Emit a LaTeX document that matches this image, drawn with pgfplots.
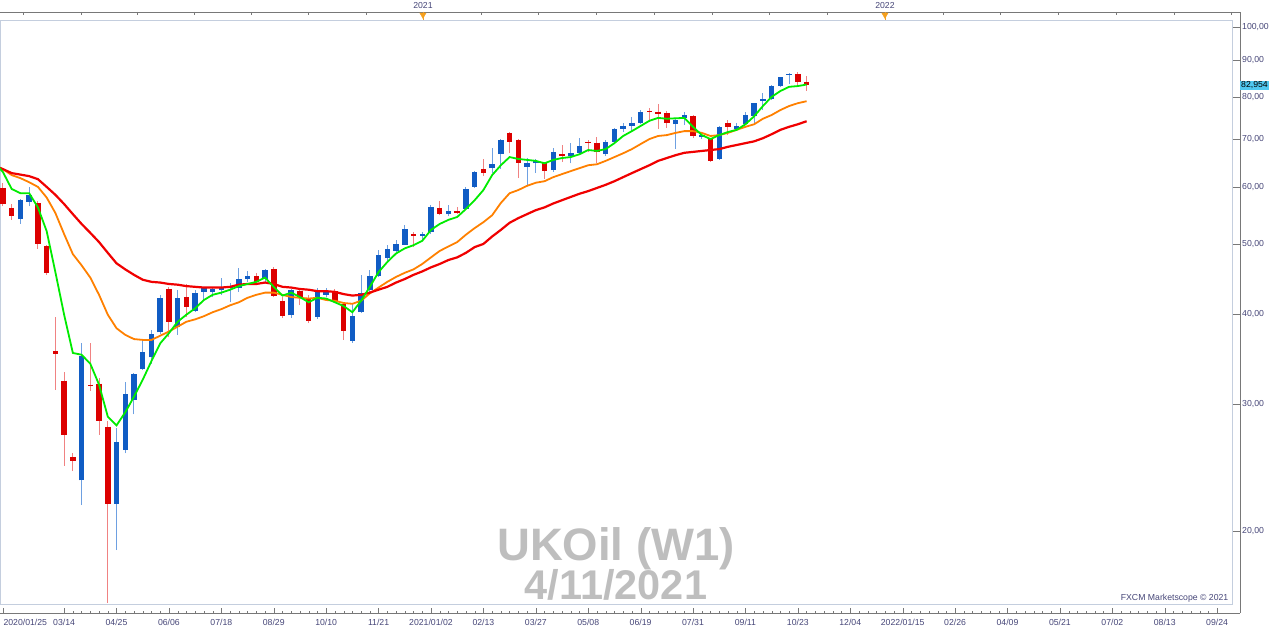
\documentclass[border=0pt]{standalone}
\usepackage{fontspec}
\setmainfont{Liberation Sans}
\usepackage{pgfplots}
\usepackage{pgfplotstable}
\pgfplotsset{compat=1.18}

\definecolor{bullc}{RGB}{16,92,196}
\definecolor{bullw}{RGB}{110,160,225}
\definecolor{bearc}{RGB}{220,0,0}
\definecolor{bearw}{RGB}{240,130,130}
\definecolor{magreen}{RGB}{0,235,0}
\definecolor{maorange}{RGB}{255,128,0}
\definecolor{mared}{RGB}{240,0,0}
\definecolor{framec}{RGB}{196,206,222}
\definecolor{labc}{RGB}{70,70,120}
\definecolor{rulec}{RGB}{120,120,120}
\definecolor{titlec}{RGB}{190,190,190}
\definecolor{pricec}{RGB}{80,200,240}
\definecolor{yearc}{RGB}{245,160,30}

% weekly candles, w = weeks since 2020/01/25
\pgfplotstableread{
w o h l c
0 59.8 60.7 56.4 56.8
1 56.1 56.8 54.0 54.7
2 54.1 57.7 53.3 57.5
3 57.2 60.0 56.4 58.4
4 57.0 57.4 49.2 50.0
5 49.7 49.8 45.3 45.6
6 35.5 39.6 31.4 35.2
7 32.3 33.2 24.6 27.2
8 25.3 25.6 24.2 25.0
9 23.5 36.5 21.7 35.0
10 31.9 36.4 31.3 31.75
11 32.0 32.6 27.2 28.4
12 27.9 28.4 15.9 21.8
13 21.8 27.8 18.8 26.6
14 25.9 32.2 25.6 31.0
15 30.4 33.1 29.0 33.0
16 33.5 36.8 33.4 35.4
17 34.8 38.0 34.1 37.5
18 37.7 42.5 37.5 42.1
19 43.3 43.6 37.1 39.0
20 38.4 43.2 37.4 42.1
21 42.2 44.0 39.6 40.9
22 40.4 43.2 40.2 42.8
23 42.9 43.6 41.8 43.4
24 42.9 43.6 42.2 43.3
25 43.1 44.8 42.5 43.4
26 43.4 44.1 41.5 43.7
27 43.4 46.3 42.9 44.7
28 44.7 45.9 44.3 45.1
29 45.1 45.6 44.0 44.3
30 44.7 46.1 44.3 46.0
31 46.1 46.4 42.2 42.3
32 41.7 42.2 39.5 39.7
33 39.8 43.3 39.5 43.2
34 43.0 43.4 41.1 42.1
35 42.1 42.5 38.8 39.1
36 39.6 43.5 39.4 43.2
37 42.5 43.4 42.2 42.9
38 43.0 43.3 41.4 41.7
39 41.3 41.5 36.8 37.9
40 36.7 41.4 36.5 39.7
41 40.2 45.3 40.1 42.8
42 43.2 46.0 42.9 45.1
43 45.1 49.0 45.0 48.3
44 47.8 49.8 47.0 49.2
45 48.9 50.6 48.7 50.0
46 49.9 53.1 49.8 52.4
47 51.6 51.9 49.5 51.3
48 51.3 51.9 50.7 51.6
49 51.9 56.6 51.6 56.3
50 56.1 57.4 54.8 55.0
51 55.0 56.6 54.6 55.5
52 55.5 56.3 55.0 55.2
53 55.9 60.0 55.7 59.6
54 60.0 63.1 59.8 62.9
55 63.5 65.6 62.1 62.7
56 63.7 67.9 62.7 64.5
57 66.6 69.9 63.5 69.7
58 71.3 71.4 66.8 69.3
59 69.7 69.9 61.7 64.8
60 63.9 65.8 60.4 64.8
61 64.7 65.6 62.7 65.2
62 64.8 65.0 61.5 63.2
63 63.3 67.9 62.9 67.1
64 66.6 68.6 65.0 66.2
65 66.2 69.1 64.7 66.9
66 66.9 70.1 66.4 68.4
67 69.3 69.8 67.1 69.0
68 69.1 70.4 64.7 67.0
69 66.6 69.7 66.2 69.2
70 69.2 72.4 69.0 72.2
71 72.2 73.6 71.5 72.9
72 73.0 75.0 71.6 73.5
73 73.7 76.7 73.4 76.3
74 76.5 77.3 73.9 76.1
75 76.3 78.1 72.3 75.7
76 75.9 76.5 72.5 73.5
77 73.3 74.6 67.7 74.3
78 74.7 76.3 73.1 75.5
79 75.2 75.4 70.1 70.6
80 70.3 71.1 69.9 70.9
81 69.9 70.0 65.0 65.2
82 65.6 72.8 65.4 72.7
83 73.7 74.3 70.8 72.7
84 72.2 73.5 71.9 72.9
85 73.4 76.2 73.1 75.5
86 75.2 78.5 73.5 78.4
87 79.0 80.9 76.7 79.5
88 79.5 83.1 79.2 82.8
89 82.8 85.3 82.6 85.2
90 85.8 86.3 83.4 86.1
91 86.1 86.7 83.1 83.9
92 83.9 85.5 81.6 82.95
}\ohlc

% moving averages (fast green, orange, slow red)
\pgfplotstableread{
w g o r
-1 65.0 64.3 64.2
0 62.9 63.5 63.5
1 59.6 62.3 62.7
2 58.8 61.7 62.4
3 58.8 60.9 62.1
4 56.2 60.0 61.5
5 52.1 58.0 60.0
6 45.7 55.2 58.5
7 39.9 51.6 56.8
8 35.3 48.4 55.0
9 35.1 46.7 53.3
10 34.1 44.9 51.8
11 31.9 42.5 50.3
12 28.8 39.9 48.6
13 28.0 38.2 47.0
14 29.2 37.4 46.1
15 30.7 36.9 45.3
16 32.4 36.8 44.6
17 34.4 36.8 44.3
18 36.4 37.3 44.2
19 37.6 37.8 44.0
20 39.0 38.4 43.9
21 39.9 39.0 43.7
22 40.7 39.3 43.6
23 41.8 39.7 43.5
24 42.5 40.2 43.5
25 42.8 40.6 43.5
26 43.2 41.1 43.6
27 43.7 41.5 43.9
28 44.0 42.1 44.0
29 44.3 42.5 44.0
30 44.9 42.8 44.2
31 43.6 42.8 44.0
32 42.4 42.5 43.6
33 42.8 42.2 43.5
34 42.2 42.1 43.3
35 41.5 42.0 43.2
36 42.1 42.1 43.0
37 42.0 41.8 43.0
38 41.5 41.7 42.9
39 41.0 41.4 42.6
40 40.2 41.3 42.4
41 41.7 41.7 42.5
42 43.6 42.7 42.8
43 45.7 43.5 43.2
44 47.2 44.3 43.6
45 48.5 45.0 44.2
46 49.3 45.6 44.7
47 49.8 46.1 45.3
48 50.5 46.9 45.8
49 52.3 47.9 46.4
50 53.3 48.9 46.9
51 54.0 49.6 47.5
52 54.5 50.3 47.9
53 55.9 51.5 48.6
54 57.5 52.6 49.5
55 59.4 53.6 50.0
56 62.3 54.8 51.2
57 64.3 57.0 52.3
58 66.0 58.8 53.5
59 65.6 59.4 54.3
60 65.4 60.2 55.0
61 65.2 60.8 55.7
62 64.7 61.1 56.2
63 65.4 61.9 56.9
64 65.8 62.5 57.5
65 66.0 63.1 58.1
66 66.6 63.7 58.7
67 67.5 64.3 59.2
68 67.3 64.5 59.8
69 67.7 65.2 60.4
70 69.0 66.0 61.1
71 70.6 66.8 61.9
72 71.7 67.7 62.7
73 72.9 68.8 63.5
74 74.1 69.9 64.3
75 74.8 70.6 65.2
76 74.6 70.8 65.8
77 74.7 71.3 66.4
78 74.8 71.7 66.9
79 72.7 71.7 67.1
80 70.8 71.3 67.3
81 69.9 70.6 67.5
82 70.8 70.8 67.7
83 71.5 71.3 68.2
84 72.0 72.0 68.6
85 73.3 72.7 69.0
86 75.2 73.3 69.4
87 77.7 74.6 70.1
88 80.0 75.5 71.0
89 81.5 76.7 72.0
90 82.6 77.7 72.7
91 82.8 78.4 73.3
92 83.2 78.9 74.0
}\mas

\pgfplotsset{
  bull wick/.style={forget plot, draw=bullw, line width=1pt},
  bear wick/.style={forget plot, draw=bearw, line width=1pt},
  bull body/.style={forget plot, draw=bullc, line width=5.5pt, line cap=butt},
  bear body/.style={forget plot, draw=bearc, line width=5.5pt, line cap=butt},
}
\tikzset{small text/.style={font=\fontsize{8.7}{10}\selectfont, text=labc}}

\begin{document}
\begin{tikzpicture}
\useasboundingbox (0pt,-28pt) rectangle (1280pt,604pt);

% main price panel
\begin{axis}[at={(0pt,0pt)}, anchor=south west, scale only axis,
  width=1232pt, height=584pt,
  xmin=-0.34, xmax=140.7, ymode=log, ymin=15.83, ymax=102.26,
  axis line style={framec}, ticks=none, clip=true]
\pgfplotsforeachungrouped \i in {0,...,92}{%
  \pgfplotstablegetelem{\i}{w}\of\ohlc \let\candW\pgfplotsretval
  \pgfplotstablegetelem{\i}{o}\of\ohlc \let\candO\pgfplotsretval
  \pgfplotstablegetelem{\i}{h}\of\ohlc \let\candH\pgfplotsretval
  \pgfplotstablegetelem{\i}{l}\of\ohlc \let\candL\pgfplotsretval
  \pgfplotstablegetelem{\i}{c}\of\ohlc \let\candC\pgfplotsretval
  \pgfmathparse{\candC>\candO}%
  \ifdim\pgfmathresult pt>0.5pt \def\candK{bull}\else\def\candK{bear}\fi
  \edef\candPlot{%
    \noexpand\addplot[\candK\space wick] coordinates {(\candW,\candL) (\candW,\candH)};
    \noexpand\addplot[\candK\space body] coordinates {(\candW,\candO) (\candW,\candC)};}%
  \candPlot
}
\addplot[maorange, line width=1.8pt] table[x=w, y=o] {\mas};
\addplot[mared, line width=2.2pt] table[x=w, y=r] {\mas};
\addplot[magreen, line width=1.8pt] table[x=w, y=g] {\mas};
\node[font=\fontsize{45.5}{48}\selectfont\bfseries, text=titlec] at (rel axis cs:0.5,0.094) {UKOil (W1)};
\node[font=\fontsize{41.5}{44}\selectfont\bfseries, text=titlec] at (rel axis cs:0.5,0.033) {4/11/2021};
\node[small text, anchor=south east, inner sep=1pt] at (rel axis cs:0.998,0.0) {FXCM Marketscope © 2021};
\end{axis}

% right price ruler
\begin{axis}[at={(0pt,0pt)}, anchor=south west, scale only axis,
  width=1240pt, height=584pt,
  xmin=0, xmax=1, ymode=log, ymin=15.83, ymax=102.26,
  axis x line=none, axis y line*=right,
  axis line style={rulec, shorten <=-9pt, shorten >=-8pt},
  ytick={20,30,40,50,60,70,80,90,100},
  yticklabels={{20,00},{30,00},{40,00},{50,00},{60,00},{70,00},{80,00},{90,00},{100,00}},
  yminorticks=false,
  tick align=inside, major tick length=7pt, tick style={rulec},
  yticklabel style={small text, anchor=west, inner sep=2pt},
  extra y ticks={82.954}, extra y tick labels={82{,}954},
  extra y tick style={major tick length=0pt,
    yticklabel style={fill=pricec, text=black, inner sep=1pt}}]
\end{axis}

% bottom date ruler
\begin{axis}[at={(0pt,-9pt)}, anchor=south west, scale only axis,
  width=1240pt, height=100pt,
  xmin=-0.34, xmax=141.62, ymin=0, ymax=1,
  axis y line=none, axis x line*=bottom, axis line style={rulec},
  xtick={7,13,19,25,31,37,43,49,55,61,67,73,79,85,91,97,103,109,115,121,127,133,139},
  xticklabels={03/14,04/25,06/06,07/18,08/29,10/10,11/21,2021/01/02,02/13,03/27,05/08,06/19,07/31,09/11,10/23,12/04,2022/01/15,02/26,04/09,05/21,07/02,08/13,09/24},
  minor x tick num=5,
  tick align=inside, major tick length=5pt, minor tick length=2.5pt, tick style={rulec},
  xticklabel style={small text, yshift=-3pt},
  extra x ticks={0}, extra x tick labels={2020/01/25},
  extra x tick style={xticklabel style={anchor=north west, xshift=-3pt}}]
\end{axis}

% top year ruler
\begin{axis}[at={(0pt,492pt)}, anchor=south west, scale only axis,
  width=1240pt, height=100pt,
  xmin=-0.34, xmax=141.62, ymin=0, ymax=100,
  axis y line=none, axis x line*=top, axis line style={rulec}, clip=false,
  xtick={2.29,8.93,15.34,21.87,28.39,34.92,41.56,48.08,54.69,61.30,67.92,74.53,81.14,87.75,94.36,100.97,107.58,114.19,120.81,127.42,134.03,140.64},
  xticklabels={,,,,,,,2021,,,,,,,,2022,,,,,,},
  tick align=inside, major tick length=3pt, tick style={rulec},
  xticklabel style={small text}]
\addplot[yearc, line width=0.8pt, forget plot] coordinates {(48.08,100) (48.08,92)};
\addplot[yearc, line width=0.8pt, forget plot] coordinates {(100.97,100) (100.97,92)};
\addplot[only marks, mark=triangle*, mark size=3.6pt,
  mark options={rotate=180, fill=yearc, draw=yearc}] coordinates {(48.08,97.2) (100.97,97.2)};
\end{axis}
\end{tikzpicture}
\end{document}
